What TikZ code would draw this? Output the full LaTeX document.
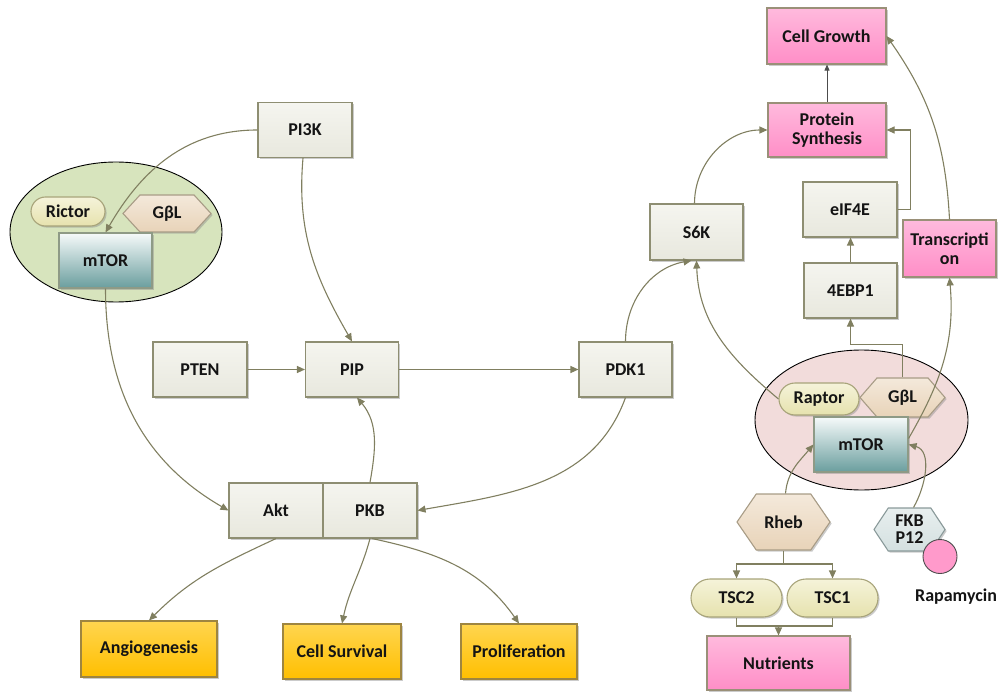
\documentclass[tikz,border=0pt]{standalone}
\usepackage{fontspec}
\setmainfont{Carlito}
\usetikzlibrary{arrows.meta,shapes.misc,shapes.symbols,shapes.geometric,shadows}

\definecolor{edgec}{RGB}{128,127,96}
\definecolor{gtop}{HTML}{F5F5EF}
\definecolor{gbot}{HTML}{E8E8DE}
\definecolor{gline}{HTML}{8E8E72}
\definecolor{ptop}{HTML}{FFBADD}
\definecolor{pbot}{HTML}{FF8EC7}
\definecolor{pline}{HTML}{9A9078}
\definecolor{ytop}{HTML}{FFD54F}
\definecolor{ybot}{HTML}{FFBF00}
\definecolor{yline}{HTML}{9E8540}
\definecolor{pilltop}{HTML}{F5F3D9}
\definecolor{pillbot}{HTML}{E6E2AE}
\definecolor{pillline}{HTML}{A8A47A}
\definecolor{hextop}{HTML}{F4E9DB}
\definecolor{hexbot}{HTML}{E8D3B8}
\definecolor{hexline}{HTML}{A89C86}
\definecolor{fktop}{HTML}{E8EFEF}
\definecolor{fkbot}{HTML}{D4E0E0}
\definecolor{fkline}{HTML}{8A9A9A}
\definecolor{mtop}{HTML}{F6FAFA}
\definecolor{mbot}{HTML}{6A9E9E}
\definecolor{mline}{HTML}{8E9A86}
\definecolor{ellgreen}{HTML}{D7E4BD}
\definecolor{ellpink}{HTML}{F2DCDB}
\definecolor{rapa}{HTML}{FF9ACB}

\tikzset{
  labelfont/.style={font=\bfseries\fontsize{18}{20}\selectfont, text=black!92},
  base/.style={labelfont, line width=1.1pt, inner sep=1pt, align=center,
    drop shadow={shadow xshift=1.6pt, shadow yshift=-1.6pt, fill=black!45, opacity=0.45}},
  graybox/.style={base, rectangle, draw=gline, top color=gtop, bottom color=gbot,
    minimum width=94pt, minimum height=55pt},
  pinkbox/.style={base, rectangle, draw=pline, top color=ptop, bottom color=pbot,
    minimum width=94pt, minimum height=55pt},
  goldbox/.style={base, rectangle, draw=yline, top color=ytop, bottom color=ybot,
    minimum width=118pt, minimum height=55pt},
  pill/.style={base, rounded rectangle, draw=pillline, top color=pilltop, bottom color=pillbot},
  hexa/.style={base, signal, signal to=east and west, draw=hexline, top color=hextop, bottom color=hexbot},
  mtorbox/.style={base, rectangle, draw=mline, top color=mtop, bottom color=mbot,
    minimum width=94pt, minimum height=55pt},
  complex/.style={ellipse, draw=black, line width=0.9pt, minimum width=212pt, minimum height=140pt},
  link/.style={draw=edgec, line width=1.1pt, -{Triangle[length=8pt,width=7pt]}},
  plain/.style={draw=edgec, line width=1.1pt},
}

\begin{document}
\begin{tikzpicture}[x=1pt,y=1pt]
\useasboundingbox (0,0) rectangle (1000,-692);

% complexes
\node[complex, fill=ellgreen] (ellL) at (116,-232) {};
\node[complex, fill=ellpink, minimum width=213pt] (ellR) at (861.5,-420) {};

% left side
\node[graybox] (pi3k) at (305,-130) {PI3K};
\node[graybox] (pten) at (200,-369.5) {PTEN};
\node[graybox, minimum width=93pt] (pip) at (352,-369.5) {PIP};
\node[graybox, minimum width=93pt] (pdk1) at (625.5,-369.5) {PDK1};
\node[graybox, minimum width=93pt, minimum height=56pt] (s6k) at (696.5,-232) {S6K};
\node[graybox] (akt) at (276,-510.5) {Akt};
\node[graybox] (pkb) at (370,-510.5) {PKB};

\node[pill, minimum width=76pt, minimum height=29pt] (rictor) at (68,-211.5) {Rictor};
\node[hexa, minimum width=88pt, minimum height=37pt, signal pointer angle=95] (gL) at (167,-213.5) {GβL};
\node[mtorbox, minimum width=93pt] (mtorL) at (105.5,-260.5) {mTOR};

% outcomes
\node[goldbox, minimum width=136pt, minimum height=56pt] (angio) at (149,-649) {Angiogenesis};
\node[goldbox] (surv) at (342,-651.5) {Cell Survival};
\node[goldbox, minimum width=116pt] (prolif) at (519,-651.5) {Proliferation};

% right side
\node[graybox, minimum width=93pt] (ebp) at (850.5,-290.5) {4EBP1};
\node[graybox] (eif) at (850,-209.5) {eIF4E};
\node[pinkbox, minimum width=118pt, minimum height=54pt] (ps) at (827,-130) {Protein\\[-1pt]Synthesis};
\node[pinkbox, minimum width=119pt, minimum height=56pt] (cg) at (826.5,-36) {Cell Growth};
\node[pinkbox, minimum width=93pt, minimum height=57pt] (trans) at (949.5,-248.5) {Transcripti\\[-1pt]on};

\node[pill, minimum width=82pt, minimum height=32pt] (raptor) at (819,-399) {Raptor};
\node[hexa, minimum width=85pt, minimum height=39pt, signal pointer angle=98] (gR) at (902.5,-397.5) {GβL};
\node[mtorbox] (mtorR) at (861,-444.5) {mTOR};

\node[hexa, minimum width=93pt, minimum height=56pt, signal pointer angle=111] (rheb) at (783.5,-522) {Rheb};
\node[hexa, draw=fkline, top color=fktop, bottom color=fkbot, minimum width=71pt, minimum height=43pt,
      signal pointer angle=113, inner sep=0pt] (fkbp) at (909.5,-529.5) {FKB\\[-3pt]P12};
\node[circle, draw=black!70, line width=0.9pt, fill=rapa, minimum size=34pt, inner sep=0pt] (rapa) at (940,-556.5) {};
\node[labelfont] (rapalabel) at (956,-597) {Rapamycin};

\node[pill, minimum width=93pt, minimum height=38pt] (tsc2) at (736.5,-598) {TSC2};
\node[pill, minimum width=93pt, minimum height=38pt] (tsc1) at (832.5,-598) {TSC1};
\node[pinkbox, minimum width=143pt, minimum height=54pt] (nut) at (778.5,-663) {Nutrients};

% connectors, left half
\draw[link] (pi3k.west) to[out=180,in=60] (mtorL.north);
\draw[link] ([xshift=-2pt]pi3k.south) to[out=-95,in=120] (pip.north);
\draw[link] (pten.east) -- (pip.west);
\draw[link] (pip.east) -- (pdk1.west);
\draw[link] (pkb.north) to[out=80,in=-50] ([xshift=5pt]pip.south);
\draw[link] (pdk1.south) to[out=-110,in=10] (pkb.east);
\draw[link] (mtorL.south) to[out=-90,in=150] (akt.west);
\draw[link] (akt.south) to[out=-155,in=45] (angio.north);
\draw[link] (pkb.south) to[out=-105,in=78] (surv.north);
\draw[link] ([xshift=2pt]pkb.south) to[out=-12,in=125] (prolif.north);

% connectors, right half
\draw[link] (pdk1.north) to[out=90,in=190] ([xshift=-5pt]s6k.south);
\draw[link] (raptor.west) to[out=140,in=-88] (s6k.south);
\draw[link] ([xshift=-2pt]s6k.north) to[out=90,in=180] (ps.west);
\draw[link] (eif.east) -- ++(13,0) |- (ps.east);
\draw[link] (ebp.north) -- (ebp.north |- eif.south);
\draw[draw=black!70, line width=0.8pt, -{Triangle[length=6pt,width=5pt]}] (ps.north) -- (ps.north |- cg.south);
\draw[link] (trans.north) to[out=93,in=-55] (cg.east);
\draw[link] ([yshift=6pt]mtorR.east) to[out=60,in=-85] (trans.south);
\draw[link] (gR.north) -- ++(0,33) -| (ebp.south);
\draw[link] ([xshift=2pt]rheb.north) to[out=85,in=-130] (mtorR.west);
\draw[link] ([xshift=4pt]fkbp.north) to[out=60,in=-15] (mtorR.east);

% Rheb branches to TSC2 and TSC1, which join into Nutrients
\coordinate (fork) at (783.5,-564);
\coordinate (join) at (778.5,-626);
\draw[plain] (rheb.south) -- (fork);
\draw[link] (fork) -| (tsc2.north);
\draw[link] (fork) -| (tsc1.north);
\draw[plain] (tsc2.south) |- (join);
\draw[plain] (tsc1.south) |- (join);
\draw[link] (join) -- (nut.north);
\end{tikzpicture}
\end{document}
